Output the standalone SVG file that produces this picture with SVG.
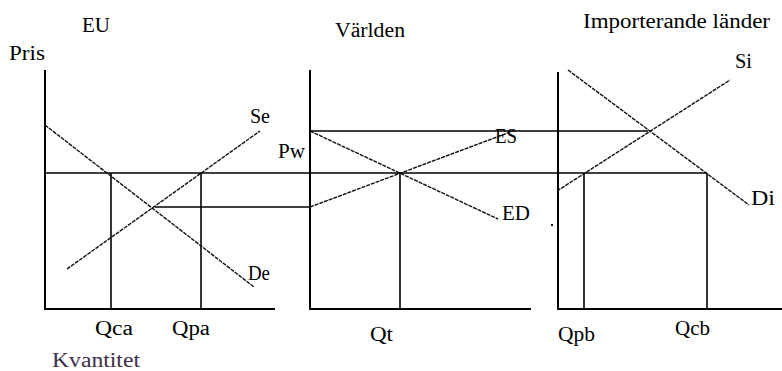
<svg xmlns="http://www.w3.org/2000/svg" width="782" height="371" viewBox="0 0 782 371">
<style>
  text { font-family: "Liberation Serif", "Times New Roman", serif; font-size: 20px; fill: #000; }
  .axis { stroke: #000; stroke-width: 2; fill: none; }
  .guide { stroke: #000; stroke-width: 1.6; fill: none; }
  .curve { stroke: #111; stroke-width: 1.4; fill: none; stroke-dasharray: 4 1; }
  .kv { fill: #3d3048; }
</style>
<rect width="782" height="371" fill="#fff"/>

<g id="panel-eu">
  <polyline class="axis" points="45,70 45,309 275,309"/>
  <line class="guide" x1="111" y1="173" x2="111" y2="309"/>
  <line class="guide" x1="201" y1="173" x2="201" y2="309"/>
  <line class="curve" x1="45" y1="125" x2="254" y2="287"/>
  <line class="curve" x1="67" y1="269" x2="260" y2="131"/>
  <text x="82" y="32" textLength="28" lengthAdjust="spacingAndGlyphs">EU</text>
  <text x="9" y="60" textLength="36" lengthAdjust="spacingAndGlyphs">Pris</text>
  <text x="250" y="123" textLength="20" lengthAdjust="spacingAndGlyphs">Se</text>
  <text x="248" y="280" textLength="22" lengthAdjust="spacingAndGlyphs">De</text>
  <text x="95" y="335" textLength="38" lengthAdjust="spacingAndGlyphs">Qca</text>
  <text x="172" y="335" textLength="38" lengthAdjust="spacingAndGlyphs">Qpa</text>
  <text class="kv" x="52" y="367" textLength="88" lengthAdjust="spacingAndGlyphs">Kvantitet</text>
</g>

<g id="panel-world">
  <polyline class="axis" points="310,70 310,309 529,309"/>
  <line class="guide" x1="400" y1="173" x2="400" y2="309"/>
  <line class="curve" x1="310" y1="207" x2="513" y2="131"/>
  <line class="curve" x1="310" y1="131" x2="498" y2="219"/>
  <text x="335" y="37" textLength="70" lengthAdjust="spacingAndGlyphs">Världen</text>
  <text x="278" y="158" textLength="27" lengthAdjust="spacingAndGlyphs">Pw</text>
  <text x="495" y="143" textLength="22" lengthAdjust="spacingAndGlyphs">ES</text>
  <text x="502" y="220" textLength="28" lengthAdjust="spacingAndGlyphs">ED</text>
  <text x="370" y="341" textLength="23" lengthAdjust="spacingAndGlyphs">Qt</text>
</g>

<g id="panel-import">
  <polyline class="axis" points="558,72 558,309 782,309"/>
  <line class="guide" x1="584" y1="173" x2="584" y2="309"/>
  <line class="guide" x1="707" y1="173" x2="707" y2="309"/>
  <line class="curve" x1="557" y1="191" x2="730" y2="80"/>
  <line class="curve" x1="568" y1="70" x2="749" y2="205"/>
  <text x="583" y="28" textLength="187" lengthAdjust="spacingAndGlyphs">Importerande länder</text>
  <text x="735" y="68" textLength="17" lengthAdjust="spacingAndGlyphs">Si</text>
  <text x="751" y="205" textLength="24" lengthAdjust="spacingAndGlyphs">Di</text>
  <text x="558" y="341" textLength="37" lengthAdjust="spacingAndGlyphs">Qpb</text>
  <text x="675" y="335" textLength="35" lengthAdjust="spacingAndGlyphs">Qcb</text>
  <rect x="551" y="224" width="2" height="2" fill="#000"/>
  <rect x="529" y="308" width="2" height="2" fill="#000"/>
</g>

<g id="connectors">
  <line class="guide" x1="45" y1="173" x2="707" y2="173"/>
  <line class="guide" x1="310" y1="131" x2="648" y2="131"/>
  <line class="guide" x1="155" y1="207" x2="310" y2="207"/>
</g>
</svg>
